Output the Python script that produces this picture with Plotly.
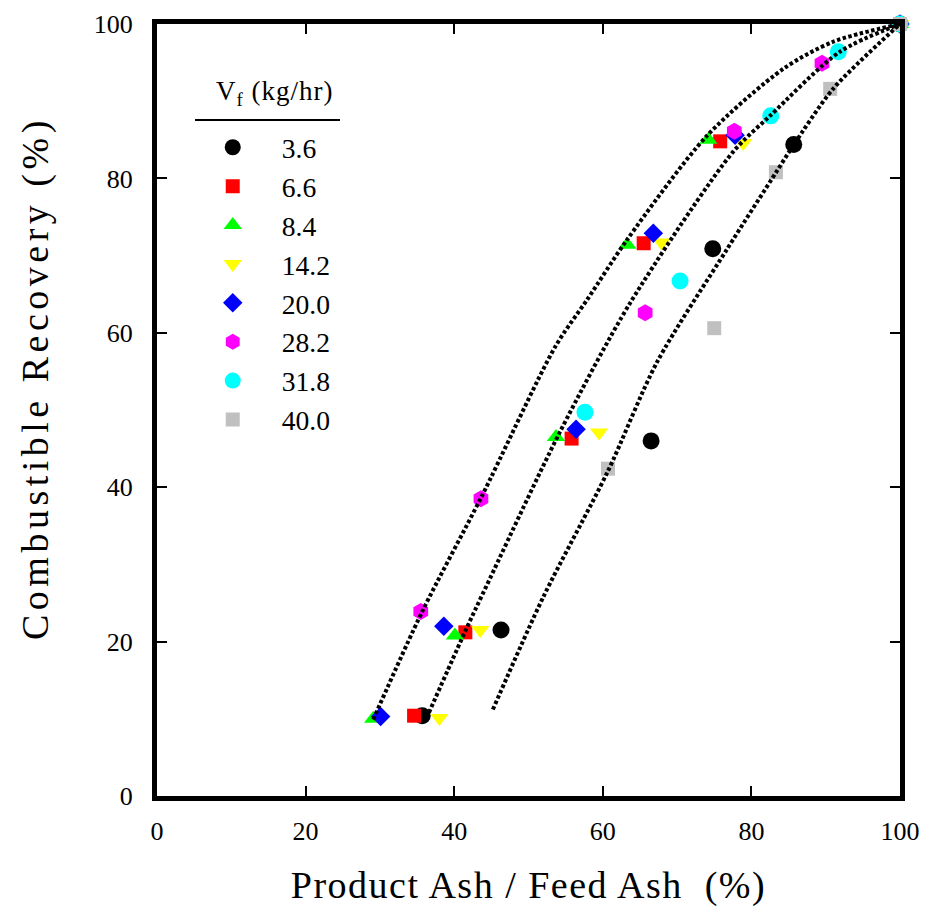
import plotly.graph_objects as go

# ---------------- data ----------------
series_names = ["3.6", "6.6", "8.4", "14.2", "20.0", "28.2", "31.8", "40.0"]
series_colors = ["#000000", "#ff0000", "#00ff00", "#ffff00", "#0000ff", "#ff00ff", "#00ffff", "#c0c0c0"]
series_symbols = ["circle", "square", "triangle-up", "triangle-down", "diamond", "hexagon", "circle", "square"]
series_sizes = [17, 14, 16, 16, 15, 17, 17, 14]

x_36 = [35.7, 46.3, 66.5, 74.8, 85.7, 100]
y_36 = [10.4, 21.5, 46.0, 70.9, 84.4, 100]
x_66 = [34.6, 41.5, 55.8, 65.5, 75.8, 100]
y_66 = [10.4, 21.2, 46.3, 71.6, 84.8, 100]
x_84 = [29.1, 40.1, 53.7, 63.3, 74.2, 100]
y_84 = [10.0, 20.8, 46.5, 71.4, 85.0, 100]
x_142 = [38.0, 43.5, 59.5, 67.9, 78.9, 100]
y_142 = [10.1, 21.5, 47.1, 71.7, 84.6, 100]
x_200 = [30.1, 38.6, 56.4, 66.8, 77.8, 100]
y_200 = [10.3, 22.0, 47.5, 72.9, 85.6, 100]
x_282 = [35.5, 43.6, 65.7, 77.7, 89.5, 100]
y_282 = [23.9, 38.5, 62.6, 86.1, 94.9, 100]
x_318 = [57.6, 70.4, 82.6, 91.7, 100]
y_318 = [49.7, 66.7, 88.1, 96.4, 100]
x_400 = [60.7, 75.0, 83.3, 90.6, 100]
y_400 = [42.4, 60.6, 80.8, 91.6, 100]

series_x = [x_36, x_66, x_84, x_142, x_200, x_282, x_318, x_400]
series_y = [y_36, y_66, y_84, y_142, y_200, y_282, y_318, y_400]

# dotted trend curves
curve_a_x = [29.1, 35.7, 43.7, 53.6, 57.9, 63.3, 74.0, 84.3, 91.0, 100]
curve_a_y = [9.9, 23.9, 38.8, 58.2, 64.3, 72.1, 85.5, 94.2, 97.7, 100]
curve_b_x = [36.6, 41.7, 43.9, 54.2, 63.7, 77.5, 82.5, 91.9, 100]
curve_b_y = [10.8, 21.8, 26.3, 47.1, 63.9, 83.4, 88.1, 96.4, 100]
curve_c_x = [45.2, 52.0, 60.6, 67.3, 76.7, 83.4, 85.6, 91.0, 100]
curve_c_y = [11.2, 25.8, 41.9, 56.2, 70.8, 80.9, 84.2, 91.6, 100]

x_ticks = [0, 20, 40, 60, 80, 100]
y_ticks = [0, 20, 40, 60, 80, 100]

FONT = "Liberation Serif"


def spaced(txt, px):
    return '<span style="font-family:Liberation Serif;letter-spacing:%spx">%s</span>' % (px, txt)


fig = go.Figure()
for nm, xs, ys, col, sym, sz in zip(series_names, series_x, series_y,
                                   series_colors, series_symbols, series_sizes):
    fig.add_trace(go.Scatter(
        x=xs, y=ys, mode="markers", name=nm,
        marker=dict(color=col, symbol=sym, size=sz, line=dict(width=0)),
        cliponaxis=False,
    ))

for cx, cy in [(curve_a_x, curve_a_y), (curve_b_x, curve_b_y), (curve_c_x, curve_c_y)]:
    fig.add_trace(go.Scatter(
        x=cx, y=cy, mode="lines", showlegend=False, hoverinfo="skip",
        line=dict(color="black", width=4, dash="3.5px,2.4px", shape="spline", smoothing=0.8),
    ))

axis_common = dict(
    range=[0, 100], showgrid=False, zeroline=False, automargin=False,
    showline=True, linewidth=5, linecolor="black", mirror="ticks",
    ticks="inside", ticklen=10, tickwidth=1.5, tickcolor="black",
    tickfont=dict(family=FONT, size=26, color="black"),
)

fig.update_layout(
    width=925, height=923,
    margin=dict(l=157, r=25, t=24, b=127),
    paper_bgcolor="white", plot_bgcolor="white",
    font=dict(family=FONT, color="black"),
    xaxis=dict(**axis_common, tickvals=x_ticks, ticklabelstandoff=8,
               title=dict(text=spaced("Product Ash / Feed Ash  (%)", 1.5),
                          font=dict(family=FONT, size=38), standoff=28)),
    yaxis=dict(**axis_common, tickvals=y_ticks, ticklabelstandoff=14),
    legend=dict(
        x=0.036, y=0.872, xanchor="left", yanchor="top",
        font=dict(family=FONT, size=27.6, color="black"),
        itemwidth=88, bgcolor="rgba(0,0,0,0)", borderwidth=0,
        tracegroupgap=0,
    ),
    annotations=[
        dict(
            text=spaced("V<sub>f</sub> (kg/hr)", 1),
            xref="paper", yref="paper",
            x=(275 - 157) / 743, y=(796 - 93) / 772, xanchor="center", yanchor="middle",
            showarrow=False, font=dict(family=FONT, size=27, color="black"),
        ),
        dict(
            text=spaced("Combustible Recovery (%)", 4.5),
            xref="paper", yref="paper", textangle=-90,
            x=(35 - 157) / 743, y=(796 - 378) / 772, xanchor="center", yanchor="middle",
            showarrow=False, font=dict(family=FONT, size=38, color="black"),
        ),
    ],
    shapes=[dict(
        type="line", xref="paper", yref="paper",
        x0=(195 - 157) / 743, x1=(340 - 157) / 743,
        y0=(796 - 120) / 772, y1=(796 - 120) / 772,
        line=dict(color="black", width=2),
    )],
)

fig.write_html("out.html")
